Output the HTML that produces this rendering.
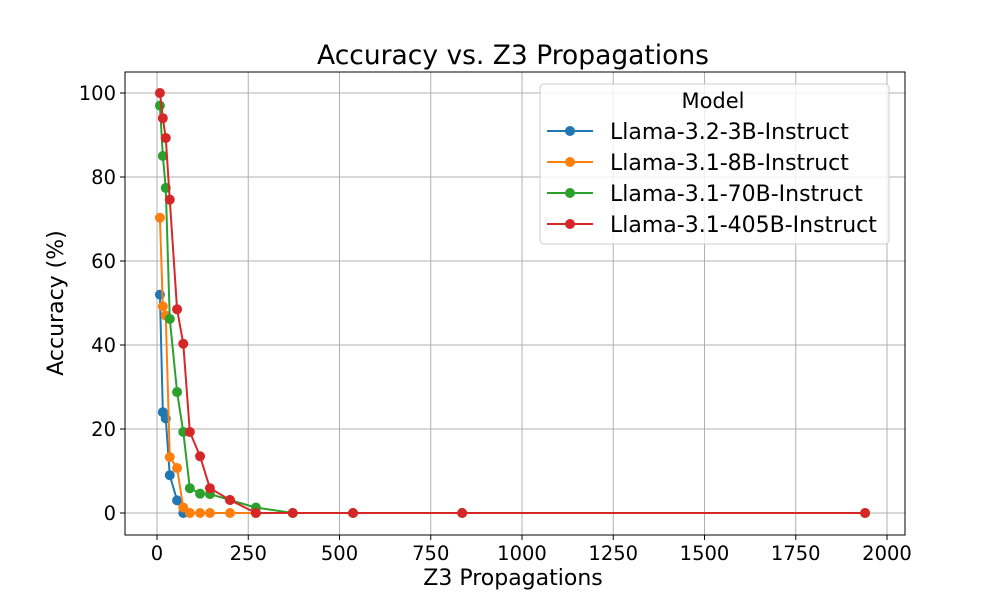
<!DOCTYPE html>
<html><head><meta charset="utf-8"><style>
body{margin:0;background:#fff}
svg{display:block;font-family:"DejaVu Sans","Liberation Sans",sans-serif}
</style></head><body>
<svg id="chart" width="1000" height="600">
<text x="513" y="64" font-size="26.5" text-anchor="middle">Accuracy vs. Z3 Propagations</text>
<g id="grid"></g><g id="axes"></g><g id="series"></g><g id="legend"></g>
<text x="513" y="585" font-size="22" text-anchor="middle">Z3 Propagations</text>
<text transform="translate(63,303) rotate(-90)" font-size="22" text-anchor="middle">Accuracy (%)</text>
</svg>
<script>
const seriesNames=["Llama-3.2-3B-Instruct","Llama-3.1-8B-Instruct","Llama-3.1-70B-Instruct","Llama-3.1-405B-Instruct"];
const colors=["#1f77b4","#ff7f0e","#2ca02c","#d62728"];
const xBlue=[8,16,24,35,55,72];
const yBlue=[52,24,22.5,9,3,0];
const xOrange=[8,16,24,35,55,72,90,118,145,200,271];
const yOrange=[70.3,49.2,47,13.3,10.7,1.3,0,0,0,0,0];
const xGreen=[8,16,24,35,55,72,90,118,145,200,271,372,537,836,1940];
const yGreen=[97,85,77.4,46.2,28.8,19.3,5.9,4.6,4.5,3.1,1.3,0,0,0,0];
const xRed=[8,16,24,35,55,72,90,118,145,200,271,372,537,836,1940];
const yRed=[100,94,89.3,74.6,48.5,40.3,19.3,13.5,5.9,3.1,0,0,0,0,0];
const xTicks=[0,250,500,750,1000,1250,1500,1750,2000];
const yTicks=[0,20,40,60,80,100];
const NS="http://www.w3.org/2000/svg";
const L=125,R=905,T=72,B=535;
const sx=v=>157+v*(887-157)/2000;
const sy=v=>513-v*4.2;
function mk(tag,attrs,parent){const e=document.createElementNS(NS,tag);for(const k in attrs)e.setAttribute(k,attrs[k]);parent.appendChild(e);return e;}
const grid=document.getElementById('grid'),axes=document.getElementById('axes');
xTicks.forEach(t=>{
 const g=mk('line',{x1:sx(t),x2:sx(t),y1:T,y2:B,stroke:'#b0b0b0','stroke-width':1},grid);
 
 
 mk('line',{x1:sx(t),x2:sx(t),y1:B,y2:B+5,stroke:'#000'},axes);
 const tx=mk('text',{x:sx(t),y:B+25,'font-size':19.5,'text-anchor':'middle'},axes);tx.textContent=t;
 
 
});
yTicks.forEach(t=>{
 const g=mk('line',{x1:L,x2:R,y1:sy(t),y2:sy(t),stroke:'#b0b0b0','stroke-width':1},grid);
 
 
 mk('line',{x1:L-5,x2:L,y1:sy(t),y2:sy(t),stroke:'#000'},axes);
 const tx=mk('text',{x:L-9,y:sy(t)+7,'font-size':19.5,'text-anchor':'end'},axes);tx.textContent=t;
 
 
});
const fr=mk('rect',{x:L,y:T,width:R-L,height:B-T,fill:'none',stroke:'#000','stroke-width':1},axes);


const data=[[xBlue,yBlue],[xOrange,yOrange],[xGreen,yGreen],[xRed,yRed]];
const sg=document.getElementById('series');
data.forEach((d,i)=>{
 const g=mk('g',{},sg);
 
 
 const pts=d[0].map((x,j)=>sx(x)+','+sy(d[1][j])).join(' ');
 mk('polyline',{points:pts,fill:'none',stroke:colors[i],'stroke-width':2},g);
 d[0].forEach((x,j)=>{
  const c=mk('circle',{cx:sx(x),cy:sy(d[1][j]),r:5,fill:colors[i]},g);
  
  
 });
});
const lg=document.getElementById('legend');


mk('rect',{x:540,y:84,width:349,height:160,rx:4,fill:'#fff','fill-opacity':0.8,stroke:'#ccc'},lg);
const lt=mk('text',{x:713,y:108,'font-size':21,'text-anchor':'middle'},lg);lt.textContent='Model';
seriesNames.forEach((n,i)=>{
 const y=131+i*31;
 const e=mk('g',{},lg);
 
 
 mk('line',{x1:547,x2:593,y1:y,y2:y,stroke:colors[i],'stroke-width':2},e);
 mk('circle',{cx:570,cy:y,r:5,fill:colors[i]},e);
 const t=mk('text',{x:610,y:y+8,'font-size':22},e);t.textContent=n;
});
</script>
</body></html>
